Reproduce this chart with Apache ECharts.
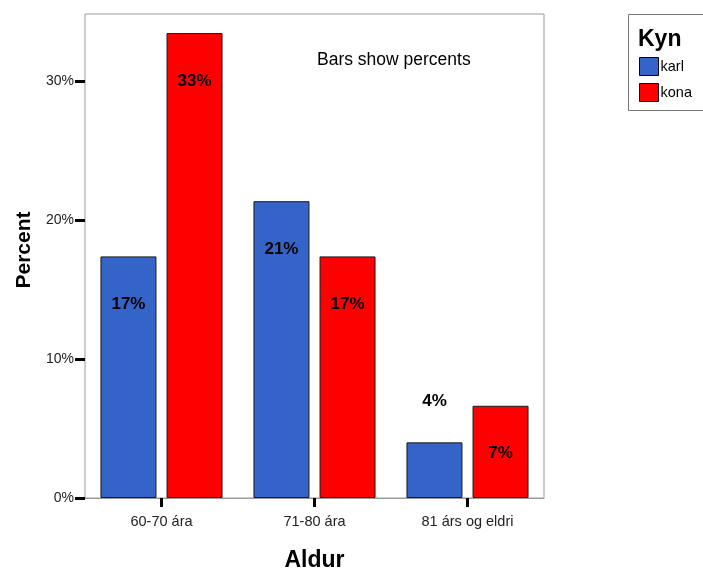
<!DOCTYPE html>
<html><head><meta charset="utf-8">
<script src="https://cdn.jsdelivr.net/npm/echarts@6/dist/echarts.min.js"></script>
<style>html,body{margin:0;padding:0;background:#fff}#c{width:703px;height:573px}</style>
</head><body><div id="c"></div>
<script>
const categories = ['60-70 ára', '71-80 ára', '81 árs og eldri'];
const seriesNames = ['karl', 'kona'];
const karl = [17.37, 21.34, 4.0];
const kona = [33.43, 17.37, 6.63];
const yTicks = [0, 10, 20, 30];
const yMax = 34.8;

const FONT = 'Liberation Sans, Arial, sans-serif';
const chart = echarts.init(document.getElementById('c'), null, {renderer: 'canvas'});

function mkData(vals) {
  return vals.map(v => {
    const d = {value: v};
    if (v < 6) d.label = {position: 'top', distance: 32.5};
    return d;
  });
}
const labelCfg = {
  show: true, position: 'insideTop', distance: 39.5,
  formatter: p => Math.round(p.value) + '%',
  color: '#000', fontWeight: 'bold', fontSize: 17, fontFamily: FONT
};

chart.setOption({
  animation: false,
  textStyle: {fontFamily: FONT},
  grid: {left: 85, top: 14, right: 159, bottom: 75, show: true, borderColor: '#999', borderWidth: 1,
         backgroundColor: 'transparent', containLabel: false, outerBoundsMode: 'none'},
  legend: {
    orient: 'vertical', left: 639, top: 57, padding: 0, itemWidth: 19, itemHeight: 18, itemGap: 7,
    icon: 'rect',
    data: seriesNames, textStyle: {fontSize: 14.5, color: '#000', fontFamily: FONT, padding: [0,0,0,-3]},
    itemStyle: {borderColor: '#000', borderWidth: 1}
  },
  graphic: [
    {type: 'rect', shape: {x: 628.5, y: 14.5, width: 80, height: 96}, style: {fill: 'none', stroke: '#777', lineWidth: 1}},
    {type: 'text', left: 638, top: 28, style: {text: 'Kyn', fontSize: 23, fontWeight: 'bold', fill: '#000', fontFamily: FONT}},
    {type: 'text', left: 317, top: 51, style: {text: 'Bars show percents', fontSize: 17.5, fill: '#000', fontFamily: FONT}}
  ],
  xAxis: {
    type: 'category', data: categories,
    name: 'Aldur', nameLocation: 'middle', nameGap: 51,
    nameTextStyle: {fontSize: 23, fontWeight: 'bold', color: '#000', fontFamily: FONT},
    axisLine: {show: true, lineStyle: {color: '#999', width: 1}},
    axisTick: {show: true, alignWithLabel: true, length: 9, lineStyle: {color: '#000', width: 3}},
    axisLabel: {fontSize: 14.5, color: '#222', margin: 16, fontFamily: FONT}
  },
  yAxis: {
    type: 'value', min: 0, max: yMax, interval: 10,
    name: 'Percent', nameLocation: 'middle', nameGap: 48.5, nameRotate: 90,
    nameTextStyle: {fontSize: 21, fontWeight: 'bold', color: '#000', fontFamily: FONT, padding: [0, 0, 0, 12]},
    axisLine: {show: false},
    axisTick: {show: true, length: 10, lineStyle: {color: '#000', width: 3}, customValues: yTicks},
    axisLabel: {fontSize: 14, color: '#222', margin: 11, formatter: v => v + '%', customValues: yTicks, fontFamily: FONT},
    splitLine: {show: false}
  },
  series: [
    {name: 'karl', type: 'bar', data: mkData(karl), barWidth: 56, barGap: '18%',
     itemStyle: {color: '#3464C8', borderColor: '#1a1a1a', borderWidth: 1}, label: labelCfg},
    {name: 'kona', type: 'bar', data: mkData(kona), barWidth: 56, barGap: '18%',
     itemStyle: {color: '#FF0000', borderColor: '#1a1a1a', borderWidth: 1}, label: labelCfg}
  ]
});
</script></body></html>
